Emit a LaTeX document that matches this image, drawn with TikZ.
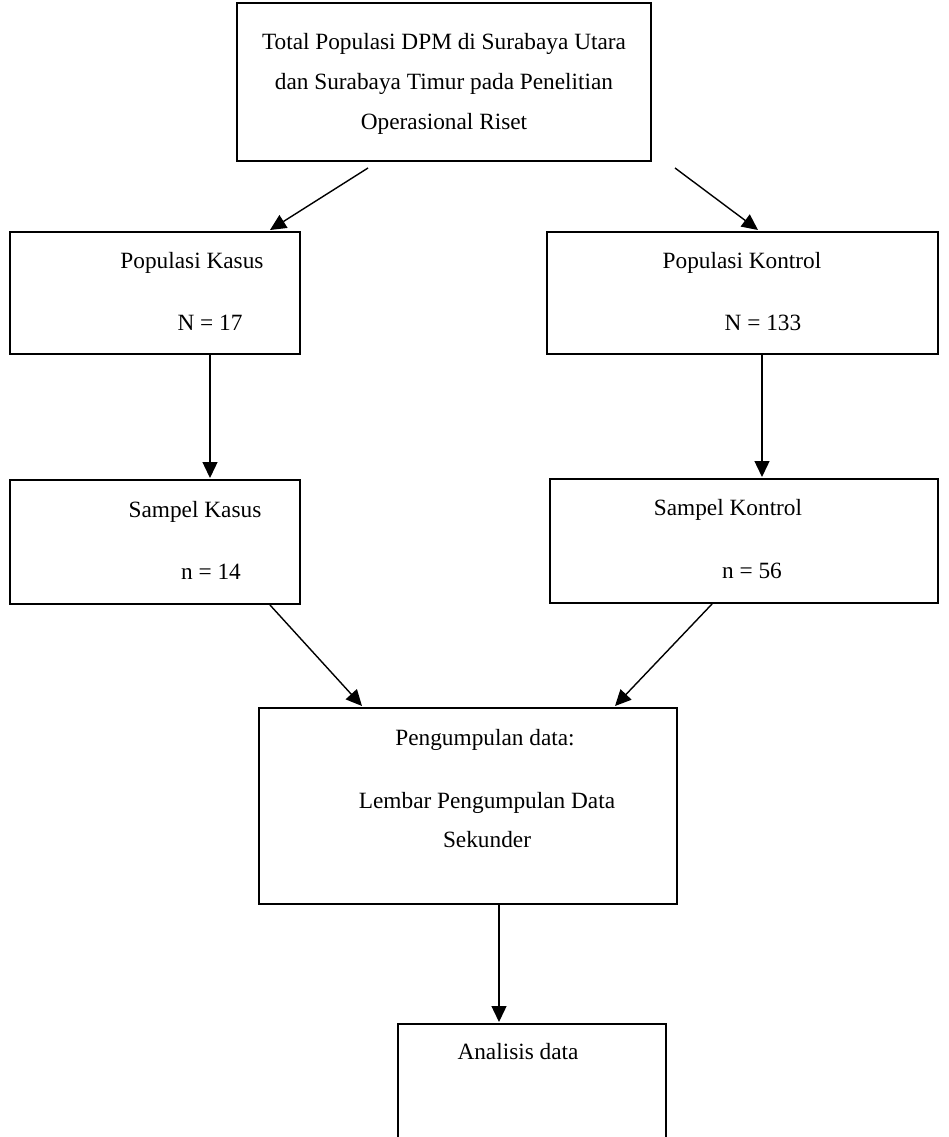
\documentclass[tikz,border=0pt]{standalone}
\usepackage{fontspec}
\setmainfont{Liberation Serif}
\usetikzlibrary{arrows.meta}
\begin{document}
\begin{tikzpicture}[x=1pt,y=-1pt,
  box/.style={draw, line width=2.7pt, rectangle, inner sep=0pt},
  txt/.style={inner sep=0pt, font=\fontsize{23.3}{40}\selectfont, align=center},
  arr/.style={line width=1.4pt, -{Triangle[length=16pt,width=15pt]}}]
\useasboundingbox (0,0) rectangle (949,1137);
\clip (0,0) rectangle (949,1137);
% boxes
\node[box, minimum width=414pt, minimum height=158pt] (top) at (444,82) {};
\node[box, minimum width=290pt, minimum height=122pt] (pk) at (155,293) {};
\node[box, minimum width=391pt, minimum height=122pt] (pt) at (742.5,293) {};
\node[box, minimum width=290pt, minimum height=124pt] (sk) at (155,542) {};
\node[box, minimum width=388pt, minimum height=124pt] (st) at (744,541) {};
\node[box, minimum width=418pt, minimum height=196pt] (pd) at (468,806) {};
\node[box, minimum width=268pt, minimum height=136pt] (ad) at (532,1092) {};
% texts
\node[txt] (topt) at (444,84) {Total Populasi DPM di Surabaya Utara\\dan Surabaya Timur pada Penelitian\\Operasional Riset};
\node[txt] (pk1) at (192,263) {Populasi Kasus};
\node[txt] (pk2) at (210,323) {N = 17};
\node[txt] (pt1) at (742,263) {Populasi Kontrol};
\node[txt] (pt2) at (763,323) {N = 133};
\node[txt] (sk1) at (195,512) {Sampel Kasus};
\node[txt] (sk2) at (211,572) {n = 14};
\node[txt] (st1) at (728,510) {Sampel Kontrol};
\node[txt] (st2) at (752,571) {n = 56};
\node[txt] (pd1) at (485,740) {Pengumpulan data:};
\node[txt] (pd2) at (487,803) {Lembar Pengumpulan Data};
\node[txt] (pd3) at (487,840) {Sekunder};
\node[txt] (ad1) at (518,1052) {Analisis data};
% connector ends
\coordinate (a1s) at (368,168); \coordinate (a1e) at (270,230);
\coordinate (a2s) at (675,168); \coordinate (a2e) at (758,230);
\coordinate (a3s) at (210,355); \coordinate (a3e) at (210,478);
\coordinate (a4s) at (762,355); \coordinate (a4e) at (762,477);
\coordinate (a5s) at (270,605); \coordinate (a5e) at (362,706);
\coordinate (a6s) at (712,604); \coordinate (a6e) at (615,706);
\coordinate (a7s) at (499,905); \coordinate (a7e) at (499,1022);
\draw[arr] (a1s) -- (a1e);
\draw[arr] (a2s) -- (a2e);
\draw[arr] (a3s) -- (a3e);
\draw[arr] (a4s) -- (a4e);
\draw[arr] (a5s) -- (a5e);
\draw[arr] (a6s) -- (a6e);
\draw[arr] (a7s) -- (a7e);
\end{tikzpicture}
\end{document}
